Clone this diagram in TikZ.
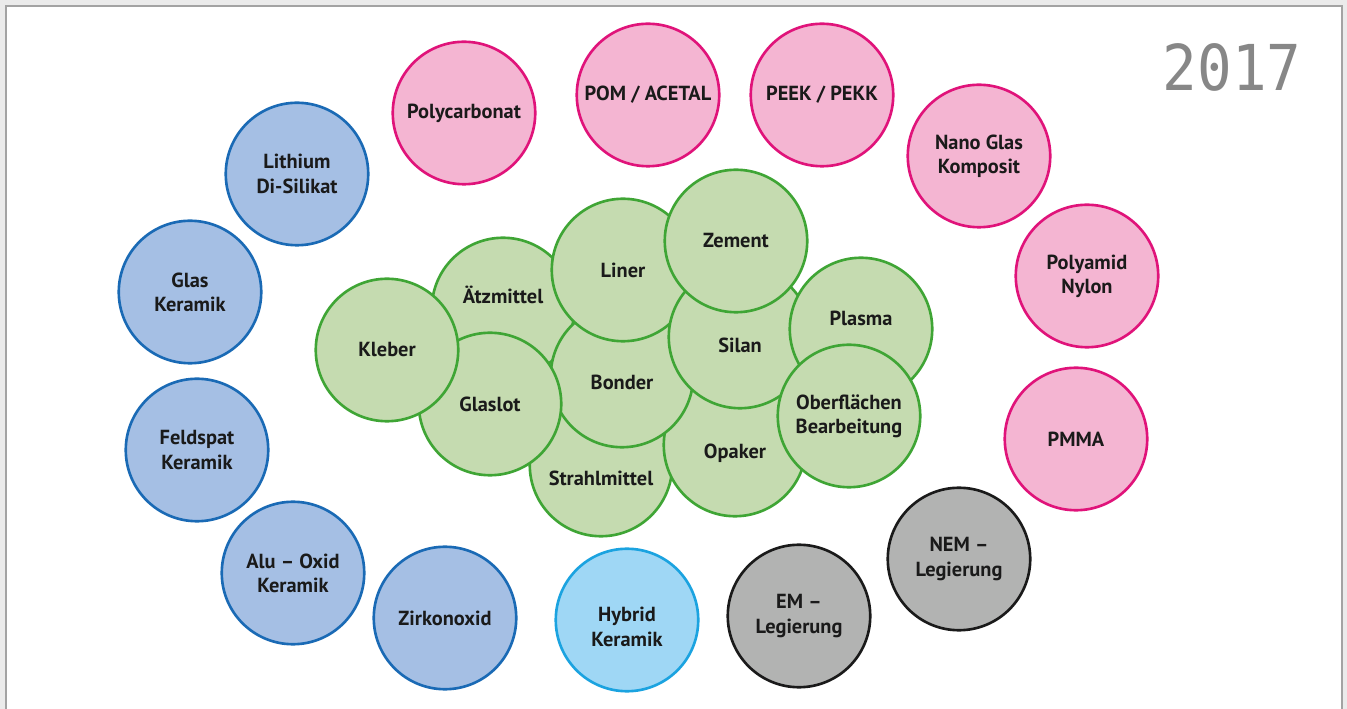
\documentclass[tikz,border=0pt]{standalone}
\usepackage{fontspec}
\setmainfont{PT Sans}
\newfontfamily\jahrfont{DejaVu Sans Mono}
\usepackage{tikz}
\definecolor{rahmen}{HTML}{A3A3A3}
\definecolor{hinten}{HTML}{EBEBEB}
\definecolor{schrift}{HTML}{1A1A1A}
\definecolor{jahr}{HTML}{878787}
\definecolor{blaufill}{HTML}{A5BFE4}
\definecolor{blaurand}{HTML}{1A6AB5}
\definecolor{hellfill}{HTML}{9FD7F5}
\definecolor{hellrand}{HTML}{1BA3E0}
\definecolor{rosafill}{HTML}{F4B5D2}
\definecolor{rosarand}{HTML}{E0137A}
\definecolor{graufill}{HTML}{B2B3B2}
\definecolor{graurand}{HTML}{1A1A1A}
\definecolor{gruenfill}{HTML}{C5DBB0}
\definecolor{gruenrand}{HTML}{3FA535}

\begin{document}
\begin{tikzpicture}[x=0.02cm, y=-0.02cm,
	bub/.style={circle, minimum size=2.85cm, inner sep=0pt, line width=1.5pt, align=center,
		text=schrift, font=\fontsize{11.6}{13.8}\selectfont\bfseries},
	blau/.style={bub, draw=blaurand, fill=blaufill},
	hell/.style={bub, draw=hellrand, fill=hellfill},
	rosa/.style={bub, draw=rosarand, fill=rosafill},
	grau/.style={bub, draw=graurand, fill=graufill},
	gruen/.style={bub, draw=gruenrand, fill=gruenfill},
	lbl/.style={text=schrift, align=center, font=\fontsize{11.6}{13.8}\selectfont\bfseries}]
			%%%%% START %%%%%
			
			\useasboundingbox (0, 0) rectangle (1347, 709);
			\fill[hinten] (0, 0) rectangle (1347, 709);
			\draw[line width=1.3pt, color=rahmen, fill=white] (6.2, 712) -- (6.2, 6.2) -- (1342, 6.2) -- (1342, 712);
			
			\node[text=jahr, font=\jahrfont\fontsize{36}{36}\selectfont] (jahr) at (1232, 67) {\scalebox{0.91}[1]{2017}};
			
			% Keramik
			\node[blau] (lithium) at (297, 174) {Lithium\\Di-Silikat};
			\node[blau] (glas) at (190, 292) {Glas\\Keramik};
			\node[blau] (feldspat) at (197, 450) {Feldspat\\Keramik};
			\node[blau] (alu) at (293, 573) {Alu -- Oxid\\Keramik};
			\node[blau] (zirkon) at (445, 618) {Zirkonoxid};
			\node[hell, label={[lbl, yshift=-7pt*0.567]center:Hybrid\\Keramik}] (hybrid) at (627, 620) {};
			
			% Legierungen
			\node[grau] (em) at (799, 616) {EM --\\Legierung};
			\node[grau] (nem) at (959, 559) {NEM --\\Legierung};
			
			% Kunststoffe
			\node[rosa] (pmma) at (1076, 439) {PMMA};
			\node[rosa] (polyamid) at (1087, 276) {Polyamid\\Nylon};
			\node[rosa] (nano) at (979, 156) {Nano Glas\\Komposit};
			\node[rosa] (peek) at (822, 95) {PEEK / PEKK};
			\node[rosa] (pom) at (648, 95) {POM / ACETAL};
			\node[rosa] (polycarb) at (464, 113) {Polycarbonat};
			
			% Befestigung
			\node[gruen, label={[lbl, yshift=-13pt*0.567]center:Strahlmittel}] (strahl) at (601, 465) {};
			\node[gruen, label={[lbl, yshift=-8pt*0.567]center:Opaker}] (opaker) at (735, 445) {};
			\node[gruen, label={[lbl, yshift=14pt*0.567]center:Ätzmittel}] (aetz) at (503, 309) {};
			\node[gruen, label={[lbl, yshift=-6pt*0.567]center:Bonder}] (bonder) at (622, 376) {};
			\node[gruen] (liner) at (623, 270) {Liner};
			\node[gruen, label={[lbl, yshift=-8pt*0.567]center:Silan}] (silan) at (740, 337) {};
			\node[gruen] (zement) at (736, 241) {Zement};
			\node[gruen, label={[lbl, yshift=11pt*0.567]center:Plasma}] (plasma) at (861, 329) {};
			\node[gruen] (oberfl) at (849, 416) {Oberflächen\\Bearbeitung};
			\node[gruen] (glaslot) at (490, 404) {Glaslot};
			\node[gruen] (kleber) at (387, 350) {Kleber};
			
			%%%%% END %%%%%
\end{tikzpicture}
\end{document}
